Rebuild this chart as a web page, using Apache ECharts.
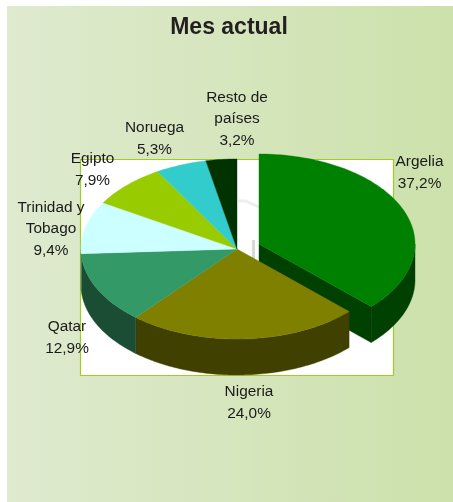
<!DOCTYPE html>
<html>
<head>
<meta charset="utf-8">
<style>html,body{margin:0;padding:0;background:#fff}#c{width:453px;height:502px}</style>
<script src="https://cdn.jsdelivr.net/npm/echarts@6/dist/echarts.min.js"></script>
</head>
<body>
<div id="c"></div>
<script>
const titleText = 'Mes actual';
const categories = ['Argelia', 'Nigeria', 'Qatar', 'Trinidad y\nTobago', 'Egipto', 'Noruega', 'Resto de\npaíses'];
const shares = [37.2, 24.0, 12.9, 9.4, 7.9, 5.3, 3.2];
const topColors = ['#008000', '#808000', '#339966', '#CCFFFF', '#99CC00', '#33CCCC', '#003300'];
const sideColors = ['#004000', '#404000', '#1A4D33', '#668080', '#4D6600', '#1A6666', '#001A00'];

const labelCenters = [[419.5, 172.5], [249, 402.5], [67, 338], [51, 229], [92.5, 170], [154.5, 138.5], [237, 119]];
const pie = { cx: 237, cy: 249, rx: 156, ry: 90, depth: 36, explodeDx: 22, explodeDy: -5 };
const explodedIndex = 0;
const total = shares.reduce((a, b) => a + b, 0);

function pt(cx, cy, deg, dy) {
  const t = deg * Math.PI / 180;
  return [cx + pie.rx * Math.sin(t), cy - pie.ry * Math.cos(t) + (dy || 0)];
}
function arc(cx, cy, a, b, dy) {
  const out = [], n = Math.max(2, Math.ceil(Math.abs(b - a)));
  for (let i = 0; i <= n; i++) out.push(pt(cx, cy, a + (b - a) * i / n, dy));
  return out;
}
function renderItem(params, api) {
  const idx = params.dataIndex;
  const value = api.value(0);
  let before = 0;
  for (let i = 0; i < idx; i++) before += shares[i];
  const a0 = before / total * 360, a1 = (before + value) / total * 360;
  const ex = idx === explodedIndex;
  const cx = pie.cx + (ex ? pie.explodeDx : 0), cy = pie.cy + (ex ? pie.explodeDy : 0);
  const children = [];
  const poly = (points, fill, z2) => children.push({
    type: 'polygon', z2: z2, shape: { points: points },
    style: { fill: fill, stroke: fill, lineWidth: 0.4 }
  });
  if (ex) {
    const e = pt(cx, cy, a1);
    poly([[cx, cy], e, [e[0], e[1] + pie.depth], [cx, cy + pie.depth]], sideColors[idx], 1);
  }
  const wa = Math.max(a0, 90), wb = Math.min(a1, 270);
  if (wb > wa) {
    poly(arc(cx, cy, wa, wb).concat(arc(cx, cy, wb, wa, pie.depth)), sideColors[idx], 2);
  }
  poly([[cx, cy]].concat(arc(cx, cy, a0, a1)), topColors[idx], 3);
  const lc = labelCenters[idx];
  const pct = value.toFixed(1).replace('.', ',') + '%';
  children.push({
    type: 'text', z2: 10,
    style: {
      x: lc[0], y: lc[1], text: categories[idx] + '\n' + pct,
      align: 'center', verticalAlign: 'middle',
      font: '15.4px "Liberation Sans", Arial, sans-serif', lineHeight: 21.7, fill: '#1a1a1a'
    }
  });
  return { type: 'group', children: children };
}

const chart = echarts.init(document.getElementById('c'), null, { renderer: 'canvas' });
chart.setOption({
  animation: false,
  backgroundColor: '#ffffff',
  title: {
    text: titleText, left: 224, top: 11.5, textAlign: 'center',
    textStyle: { fontFamily: '"Liberation Sans", Arial, sans-serif', fontSize: 23, fontWeight: 'bold', color: '#231f20' }
  },
  graphic: [
    { type: 'rect', silent: true, z: -10, shape: { x: 7, y: 6, width: 446, height: 496 },
      style: { fill: new echarts.graphic.LinearGradient(0, 0, 1, 0, [
        { offset: 0, color: '#dfeacf' }, { offset: 1, color: '#cce1ab' }]) } },
    { type: 'rect', silent: true, z: -9, shape: { x: 80.5, y: 159.5, width: 313, height: 216 },
      style: { fill: '#ffffff', stroke: '#a3cc22', lineWidth: 1.2 } },
    { type: 'polyline', silent: true, z: -8, shape: { points: [[238, 201], [246, 201], [252, 204], [259, 207]] },
      style: { stroke: '#eeeeee', lineWidth: 3, fill: null } },
    { type: 'rect', silent: true, z: -8, shape: { x: 252, y: 240, width: 3, height: 20 },
      style: { fill: '#d8d8d8' } }
  ],
  series: [{
    type: 'custom',
    coordinateSystem: 'none',
    silent: true,
    renderItem: renderItem,
    data: shares.map((v, i) => ({ name: categories[i], value: [v] }))
  }]
});
</script>
</body>
</html>
